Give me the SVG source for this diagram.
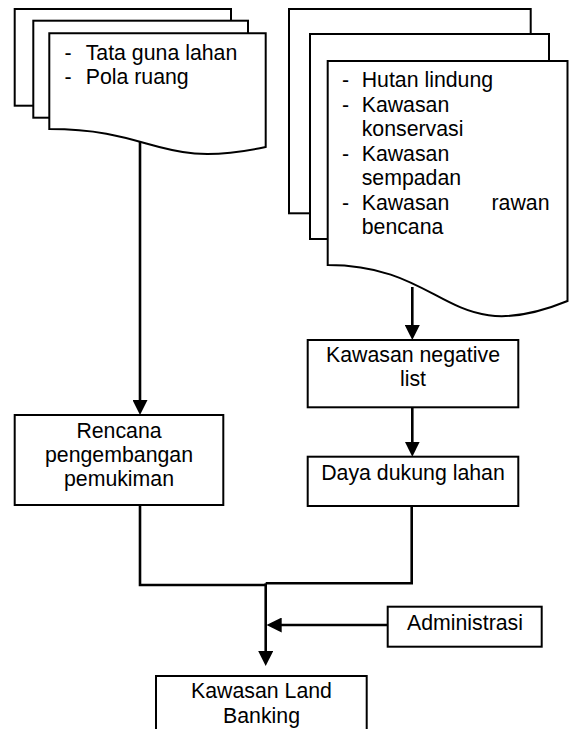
<svg xmlns="http://www.w3.org/2000/svg" width="571" height="729" viewBox="0 0 571 729">
<style>
.pg{fill:#fff;stroke:#000;stroke-width:2}
.bx{fill:#fff;stroke:#000;stroke-width:2}
.t{font-family:"Liberation Sans",Arial,sans-serif;font-size:21.3px;fill:#000}
.c{text-anchor:middle}
.ln{fill:none;stroke:#000;stroke-width:2.6}
</style>
<defs>
<marker id="ah" viewBox="0 0 15 15" refX="10" refY="7.5" markerWidth="15" markerHeight="15" markerUnits="userSpaceOnUse" orient="auto">
<path d="M0,0 L15,7.5 L0,15 Z" fill="#000"/>
</marker>
</defs>
<rect width="571" height="729" fill="#fff"/>
<g id="doc-left">
<rect class="pg" x="14.7" y="9" width="216.3" height="96.7"/>
<rect class="pg" x="33.3" y="20.7" width="214.7" height="97"/>
<path class="pg" d="M49.3,33.3 H265.7 V147 C157.5,170 157.5,129 49.3,129 Z"/>
<text class="t" x="64.5" y="59.5">-</text>
<text class="t" x="85.7" y="59.5">Tata guna lahan</text>
<text class="t" x="64.5" y="83.5">-</text>
<text class="t" x="85.7" y="83.5">Pola ruang</text>
</g>
<g id="doc-right">
<rect class="pg" x="289" y="9" width="241.7" height="204.3"/>
<rect class="pg" x="310" y="34" width="239" height="205"/>
<path class="pg" d="M327.7,61 H567.5 V301 C447.6,350 447.6,265 327.7,265 Z"/>
<text class="t" x="342" y="87.3">-</text>
<text class="t" x="361.7" y="87.3">Hutan lindung</text>
<text class="t" x="342" y="111.8">-</text>
<text class="t" x="361.7" y="111.8">Kawasan</text>
<text class="t" x="361.7" y="136.3">konservasi</text>
<text class="t" x="342" y="160.8">-</text>
<text class="t" x="361.7" y="160.8">Kawasan</text>
<text class="t" x="361.7" y="185.3">sempadan</text>
<text class="t" x="342" y="209.8">-</text>
<text class="t" x="361.7" y="209.8">Kawasan</text>
<text class="t" x="549.5" y="209.8" text-anchor="end">rawan</text>
<text class="t" x="361.7" y="234.3">bencana</text>
</g>
<g id="rencana">
<rect class="bx" x="14.7" y="415" width="208.6" height="90"/>
<text class="t c" x="119" y="437.7">Rencana</text>
<text class="t c" x="119" y="462">pengembangan</text>
<text class="t c" x="119" y="486.3">pemukiman</text>
</g>
<g id="negative-list">
<rect class="bx" x="307.7" y="340" width="210.6" height="67.3"/>
<text class="t c" x="413" y="361.7">Kawasan negative</text>
<text class="t c" x="413" y="386">list</text>
</g>
<g id="daya-dukung">
<rect class="bx" x="307.7" y="456.7" width="210.6" height="49.3"/>
<text class="t c" x="413" y="480">Daya dukung lahan</text>
</g>
<g id="administrasi">
<rect class="bx" x="387.7" y="606.7" width="154" height="40"/>
<text class="t c" x="465" y="630">Administrasi</text>
</g>
<g id="land-banking">
<rect class="bx" x="156" y="676" width="210.7" height="70"/>
<text class="t c" x="261.5" y="698.3">Kawasan Land</text>
<text class="t c" x="261.5" y="723.3">Banking</text>
</g>
<g id="connectors">
<path class="ln" d="M140,142 V410" marker-end="url(#ah)"/>
<path class="ln" d="M412.3,287 V335" marker-end="url(#ah)"/>
<path class="ln" d="M412.3,407.3 V451.7" marker-end="url(#ah)"/>
<path class="ln" d="M140,505 V585 H265.7"/>
<path class="ln" d="M411.7,506 V583.3 H265.7"/>
<path class="ln" d="M265.7,583.3 V661" marker-end="url(#ah)"/>
<path class="ln" d="M387.7,625 H271.7" marker-end="url(#ah)"/>
</g>
</svg>
